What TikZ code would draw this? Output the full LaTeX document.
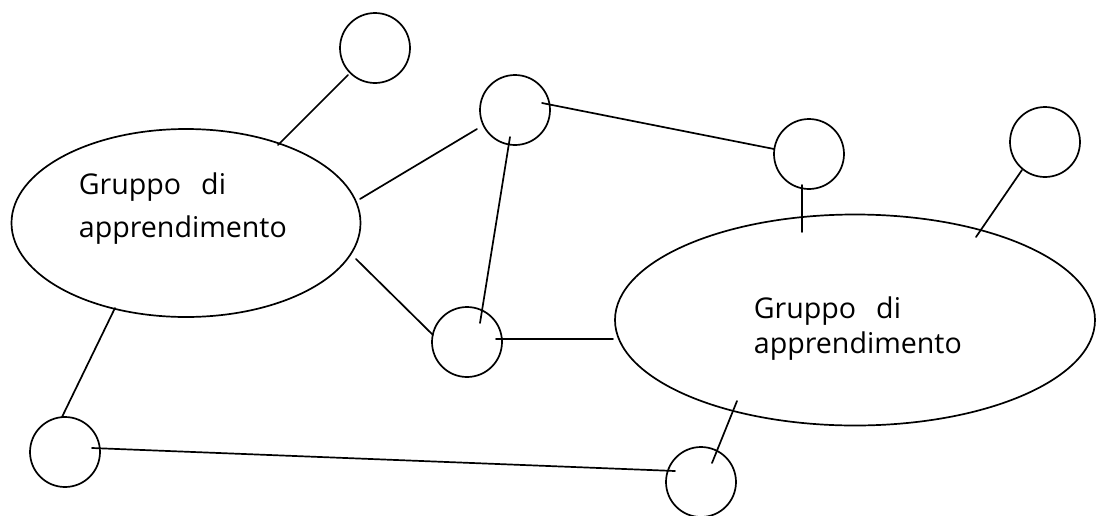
\documentclass[tikz,border=0pt]{standalone}
\usepackage{fontspec}
\setmainfont{Open Sans}
\usetikzlibrary{shapes.geometric,calc}
\begin{document}
\begin{tikzpicture}[x=1pt,y=-1pt,line cap=round,line join=round,line width=1.7pt,
		cerchio/.style={draw,circle,minimum size=70pt,inner sep=0pt},
		gruppo/.style={draw,ellipse,inner sep=0pt},
		etichetta/.style={align=left,anchor=base west,inner sep=0pt,font=\fontsize{28.6}{43}\selectfont}]
	\useasboundingbox (0,0) rectangle (1096,515);
	% i due gruppi
	\node[gruppo,minimum width=349pt,minimum height=188pt] (gL) at (186,223) {};
	\node[gruppo,minimum width=480pt,minimum height=211pt] (gR) at (855,320) {};
	\node[etichetta] (tL) at (78,237) {Gruppo\hspace{0.7em}di\\apprendimento};
	\node[etichetta,font=\fontsize{28.6}{35}\selectfont] (tR) at (753,353) {Gruppo\hspace{0.7em}di\\apprendimento};
	% i singoli
	\node[cerchio] (cTop) at (375,48) {};
	\node[cerchio] (cA) at (515,110) {};
	\node[cerchio] (cB) at (809,154) {};
	\node[cerchio] (cC) at (467,342) {};
	\node[cerchio] (cR) at (1045,142) {};
	\node[cerchio] (cBL) at (65,452) {};
	\node[cerchio] (cBR) at (701,482) {};
	% collegamenti
	\draw ($(cTop)+(-27,27)$) -- ($(gL)+(92,-78)$);
	\draw ($(gL)+(174,-24)$) -- ($(cA)+(-38,19)$);
	\draw ($(cA)+(27,-7)$) -- ($(cB)+(-35,-5)$);
	\draw ($(cA)+(-5,27)$) -- ($(cC)+(13,-19)$);
	\draw ($(gL)+(170,36)$) -- ($(cC)+(-34,-7)$);
	\draw ($(cC)+(29,-3)$) -- ($(gR)+(-242,19)$);
	\draw ($(cB)+(-7,31)$) -- ($(gR)+(-53,-88)$);
	\draw ($(cR)+(-23,28)$) -- ($(gR)+(121,-83)$);
	\draw ($(gL)+(-71,85)$) -- ($(cBL)+(-3,-35)$);
	\draw ($(cBL)+(27,-4)$) -- ($(cBR)+(-26,-11)$);
	\draw ($(gR)+(-118,81)$) -- ($(cBR)+(11,-19)$);
\end{tikzpicture}
\end{document}
